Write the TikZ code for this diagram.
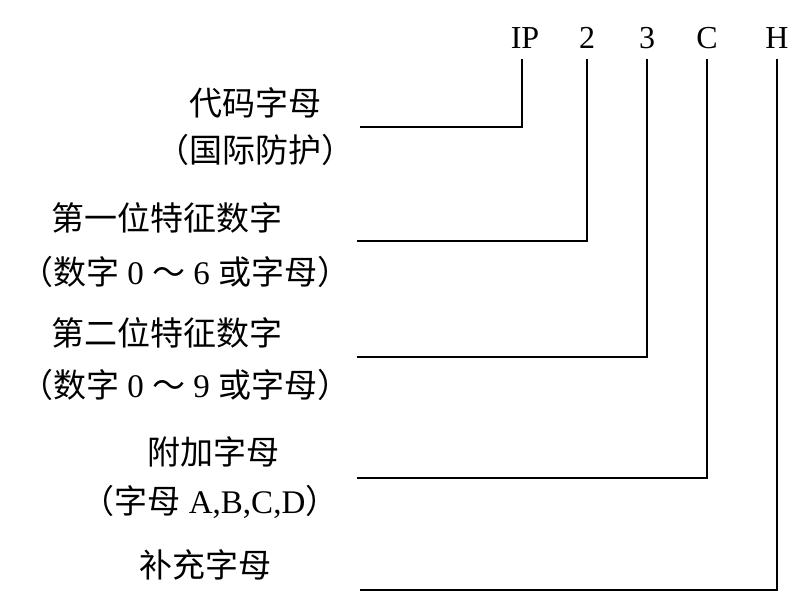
\documentclass[tikz,border=0pt]{standalone}
\usepackage{fontspec}
\setmainfont{Liberation Serif}
\newfontfamily\cjk{Noto Sans CJK SC}
\usetikzlibrary{positioning}
\tikzset{
  code/.style={font=\fontsize{32}{32}\selectfont, inner sep=0pt},
  note/.style={font=\fontsize{33}{33}\selectfont, inner sep=0pt},
  lead/.style={line width=1.3pt}
}
\begin{document}
\begin{tikzpicture}[x=1pt, y=-1pt]
        \useasboundingbox (0,0) rectangle (800,593);
        % Code letters
        \node (ip) [code] at (525,38) {IP};
        \node (first) [code] at (587,38) {2};
        \node (second) [code] at (647,38) {3};
        \node (extra) [code] at (707,38) {C};
        \node (supp) [code] at (777,38) {H};

        % Labels
        \node (codeA) [note] at (255,103) {\cjk 代码字母};
        \node (codeB) [note] at (255,150) {\cjk （国际防护）};
        \node (firstA) [note] at (167,218) {\cjk 第一位特征数字};
        \node (firstB) [note] at (185,272) {{\cjk （数字} 0 {\cjk ～} 6 {\cjk 或字母）}};
        \node (secondA) [note] at (167,333) {\cjk 第二位特征数字};
        \node (secondB) [note] at (185,385) {{\cjk （数字} 0 {\cjk ～} 9 {\cjk 或字母）}};
        \node (extraA) [note] at (213,452) {\cjk 附加字母};
        \node (extraB) [note] at (210,502) {{\cjk （字母} A,B,C,D{\cjk ）}};
        \node (suppA) [note] at (205,565) {\cjk 补充字母};

        % Line ends
        \coordinate (codeE) at (360,127);
        \coordinate (firstE) at (357,241);
        \coordinate (secondE) at (357,357);
        \coordinate (extraE) at (357,478);
        \coordinate (suppE) at (360,590);

        % Leaders
        \draw [lead] ([yshift=-10pt]ip.south -| 522,0) |- (codeE);
        \draw [lead] ([yshift=-10pt]first.south) |- (firstE);
        \draw [lead] ([yshift=-10pt]second.south) |- (secondE);
        \draw [lead] ([yshift=-10pt]extra.south) |- (extraE);
        \draw [lead] ([yshift=-10pt]supp.south) |- (suppE);
\end{tikzpicture}
\end{document}
